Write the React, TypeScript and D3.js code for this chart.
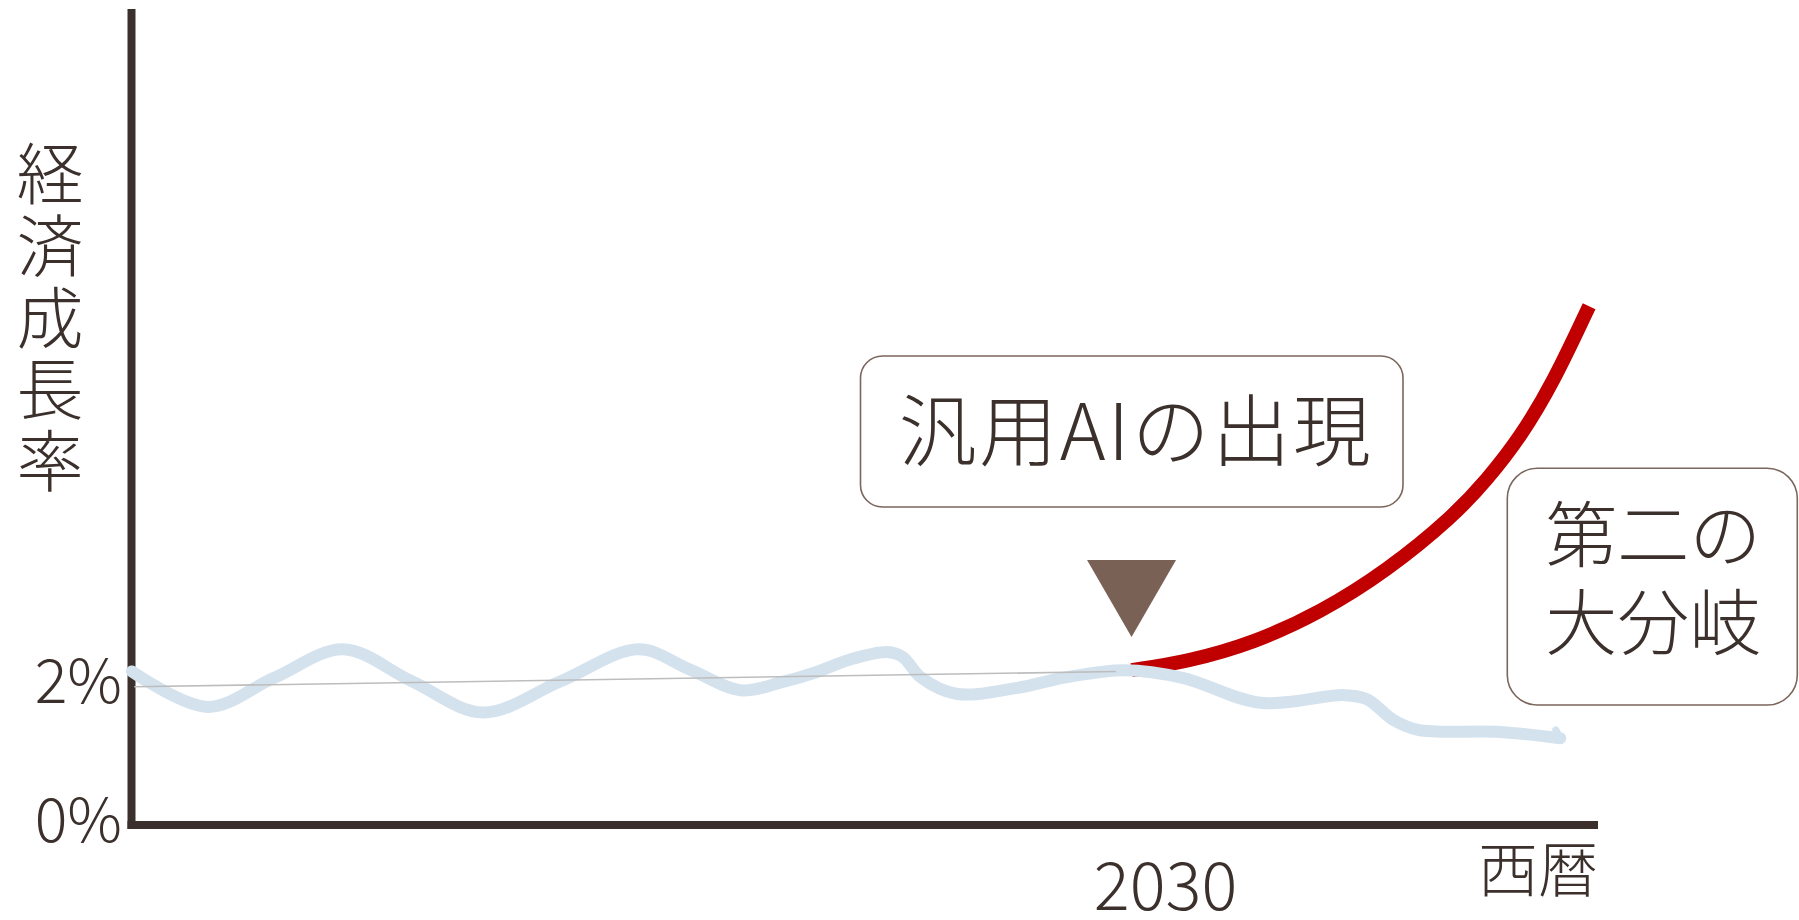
import React from "react";
import * as d3 from "d3";

const W = 1799;
const H = 920;

// y-axis title, tick labels, x labels
const yTitle = "経済成長率";
const yTickValues = [0, 2];
const xTickYears = [2030];
const xAxisTitle = "西暦";
const callout1 = "汎用AIの出現";
const callout2Lines = ["第二の", "大分岐"];

// current-trend wavy growth (year, % growth)
const blueYears = [1985.0, 1988.4, 1991.4, 1994.5, 1997.6, 2000.8, 2004.3, 2007.8, 2010.1, 2012.4, 2014.3, 2015.8, 2017.3, 2019.0, 2019.7, 2020.5, 2022.1, 2024.8, 2027.1, 2029.7, 2032.3, 2035.8, 2039.6, 2040.6, 2041.8, 2042.9, 2046.6, 2049.3];
const blueValues = [2.21, 1.70, 2.12, 2.53, 2.07, 1.62, 2.07, 2.53, 2.24, 1.94, 2.06, 2.20, 2.38, 2.49, 2.42, 2.13, 1.89, 1.97, 2.13, 2.23, 2.12, 1.76, 1.87, 1.81, 1.51, 1.37, 1.34, 1.25];
// little pen flick at the end of the wavy line
const hookYears = [2049.3, 2049.1];
const hookValues = [1.25, 1.37];

// AI-driven divergence
const redYears = [2030.0, 2032.5, 2035.5, 2038.5, 2041.5, 2044.5, 2046.0, 2047.5, 2049.0, 2050.6];
const redValues = [2.23, 2.35, 2.62, 3.06, 3.66, 4.45, 4.97, 5.58, 6.38, 7.47];

// thin trend line
const trendYears = [1985.1, 2029.3];
const trendValues = [1.99, 2.21];

const INK = "#3b302b";
const BOX = "#7b665c";
const TRI = "#7a6156";
const BLUE = "#d4e2ee";
const RED = "#c00000";
const FONT = "'Noto Sans CJK JP Light', 'Noto Sans CJK JP DemiLight', 'Noto Sans CJK JP', 'Noto Sans', sans-serif";

export default function App() {
  const x = d3.scaleLinear().domain([1985, 2051]).range([132, 1598]);
  const y = d3.scaleLinear().domain([0, 11.75]).range([825, 9]);

  const wave = d3
    .line<[number, number]>()
    .x((d) => x(d[0]))
    .y((d) => y(d[1]))
    .curve(d3.curveCatmullRom.alpha(0.5));
  const rise = d3
    .line<[number, number]>()
    .x((d) => x(d[0]))
    .y((d) => y(d[1]))
    .curve(d3.curveBasis);
  const straight = d3
    .line<[number, number]>()
    .x((d) => x(d[0]))
    .y((d) => y(d[1]));

  const zip = (a: number[], b: number[]) => a.map((v, i) => [v, b[i]] as [number, number]);
  const bluePts = zip(blueYears, blueValues);
  const hookPts = zip(hookYears, hookValues);
  const redPts = zip(redYears, redValues);
  const trendPts = zip(trendYears, trendValues);

  const x0 = x(2030);
  const tri = `M${x0 - 44.5},560 L${x0 + 44.5},560 L${x0},637 Z`;

  const box2 = { x: 1507.3, y: 468.3, w: 290, h: 236.7 };

  return (
    <svg
      width={W}
      height={H}
      viewBox={`0 0 ${W} ${H}`}
      style={{ position: "absolute", left: 0, top: 0, background: "#fff" }}
      fontFamily={FONT}
    >
      <rect x={0} y={0} width={W} height={H} fill="#fff" />

      {/* axes */}
      <line x1={x(1985) - 0.5} y1={y(11.75)} x2={x(1985) - 0.5} y2={y(0) + 4} stroke={INK} strokeWidth={8} />
      <line x1={x(1985) - 4.5} y1={y(0)} x2={x(2051)} y2={y(0)} stroke={INK} strokeWidth={8} />

      {/* series */}
      <path d={rise(redPts) || ""} fill="none" stroke={RED} strokeWidth={14} strokeLinecap="butt" />
      <path d={wave(bluePts) || ""} fill="none" stroke={BLUE} strokeWidth={12} strokeLinecap="round" strokeLinejoin="round" />
      <path d={straight(hookPts) || ""} fill="none" stroke={BLUE} strokeWidth={7} strokeLinecap="round" />
      <path d={straight(trendPts) || ""} fill="none" stroke="#bdbdbd" strokeWidth={1.6} />

      {/* y ticks */}
      {yTickValues.map((v) => (
        <text key={v} x={122} y={y(v) + 17} textAnchor="end" fontSize={61} fontWeight={300} fill={INK}>
          {`${v}%`}
        </text>
      ))}

      {/* y title, vertical writing */}
      <text
        x={50}
        y={140.5}
        fontSize={67}
        fontWeight={300}
        fill={INK}
        letterSpacing={4.6}
        style={{ writingMode: "vertical-rl", textOrientation: "upright" }}
      >
        {yTitle}
      </text>

      {/* x tick */}
      {xTickYears.map((yr) => (
        <text key={yr} x={x(yr) + 34} y={910} textAnchor="middle" fontSize={67} fontWeight={300} fill={INK}>
          {yr}
        </text>
      ))}
      <text x={x(2051)} y={865} textAnchor="end" dominantBaseline="central" fontSize={60} fontWeight={300} fill={INK}>
        {xAxisTitle}
      </text>

      {/* callout 1 */}
      <rect x={860.5} y={356} width={542.5} height={151} rx={22} ry={22} fill="#fff" stroke={BOX} strokeWidth={1.6} />
      <text x={1136} y={426} textAnchor="middle" dominantBaseline="central" fontSize={78} letterSpacing={2.5} fontWeight={300} fill={INK}>
        {callout1}
      </text>
      <path d={tri} fill={TRI} />

      {/* callout 2 */}
      <rect x={box2.x} y={box2.y} width={box2.w} height={box2.h} rx={30} ry={30} fill="#fff" stroke={BOX} strokeWidth={1.6} />
      <foreignObject x={box2.x} y={485.5} width={box2.w} height={190}>
        <div
          style={{
            width: "100%",
            textAlign: "center",
            fontFamily: FONT,
            fontSize: "72px",
            fontWeight: 300,
            lineHeight: "88.5px",
            color: INK,
            margin: 0,
            padding: 0,
            paddingLeft: "1px",
            whiteSpace: "nowrap",
          }}
        >
          {callout2Lines.map((t, i) => (
            <React.Fragment key={t}>
              {t}
              {i < callout2Lines.length - 1 ? <br /> : null}
            </React.Fragment>
          ))}
        </div>
      </foreignObject>
    </svg>
  );
}
